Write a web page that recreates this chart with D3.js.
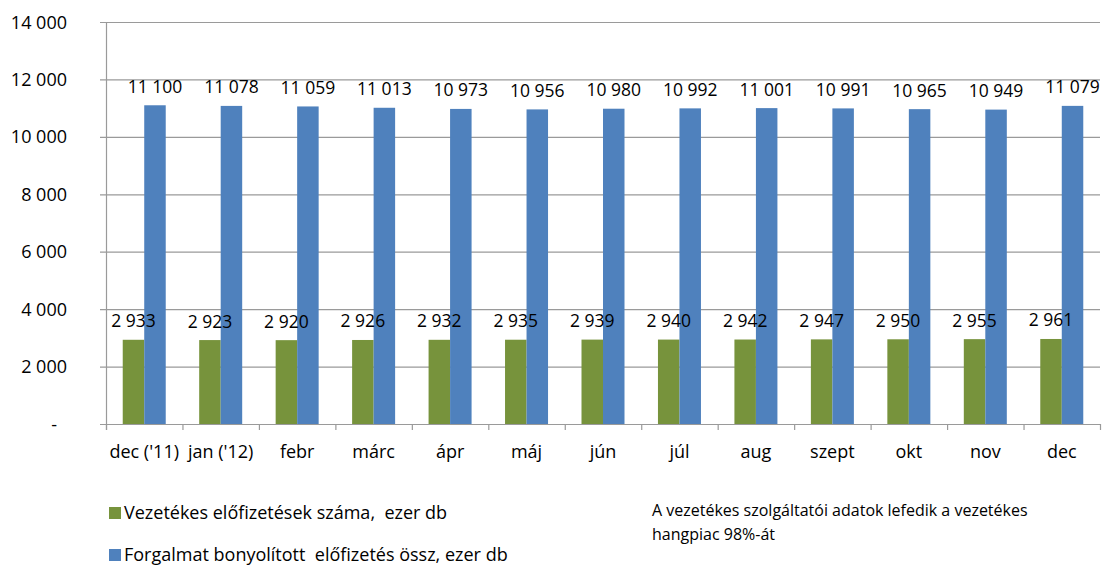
<!DOCTYPE html>
<html><head><meta charset="utf-8">
<script src="https://cdn.jsdelivr.net/npm/d3@7"></script>
<style>
body{margin:0;background:#fff;}
svg{display:block;font-family:"Open Sans",Lato,sans-serif;}
</style></head>
<body><svg id="c" width="1105" height="566"></svg>
<script>
const categories = ["dec ('11)","jan ('12)","febr","márc","ápr","máj","jún","júl","aug","szept","okt","nov","dec"];
const vezetekes = [2933,2923,2920,2926,2932,2935,2939,2940,2942,2947,2950,2955,2961];
const forgalmat = [11100,11078,11059,11013,10973,10956,10980,10992,11001,10991,10965,10949,11079];
const yTicks = [0,2000,4000,6000,8000,10000,12000,14000];
const seriesNames = ["Vezetékes előfizetések száma,  ezer db","Forgalmat bonyolított  előfizetés össz, ezer db"];
const colors = ["#77933C","#4F81BD"];
const note = ["A vezetékes szolgáltatói adatok lefedik a vezetékes","hangpiac 98%-át"];

const svg = d3.select("#c");
const L=106, R=1100, T=22, B=424;
const fmt = v => String(v).replace(/\B(?=(\d{3})+(?!\d))/g, " ");
const fmtTick = v => v===0 ? "-" : fmt(v);

const x = d3.scaleBand().domain(categories).range([L,R]).paddingInner(0).paddingOuter(0);
const y = d3.scaleLinear().domain([0,14000]).range([B,T]);
const sub = d3.scaleBand().domain([0,1]).range([-21.5,21.5]);

svg.append("g").selectAll("line").data(yTicks).join("line")
  .attr("x1",L-6).attr("x2",R).attr("y1",d=>y(d)+0.5).attr("y2",d=>y(d)+0.5)
  .attr("stroke","#9a9a9a").attr("stroke-width",1.2);
svg.append("line").attr("x1",L+0.5).attr("x2",L+0.5).attr("y1",T).attr("y2",B+6)
  .attr("stroke","#9a9a9a").attr("stroke-width",1.2);
const xt = categories.map(c=>x(c)).concat([R]);
svg.append("g").selectAll("line").data(xt).join("line")
  .attr("x1",d=>d+0.5).attr("x2",d=>d+0.5)
  .attr("y1",B).attr("y2",B+6).attr("stroke","#9a9a9a").attr("stroke-width",1.2);

svg.append("g").selectAll("text").data(yTicks).join("text")
  .attr("x",d=>d===0?57:67).attr("y",d=>y(d)+6.5).attr("text-anchor","end")
  .attr("font-size",18).attr("fill","#000").text(fmtTick);

svg.append("g").selectAll("text").data(categories).join("text")
  .attr("x",d=>x(d)+x.bandwidth()/2).attr("y",458).attr("text-anchor","middle")
  .attr("font-size",18).attr("fill","#000").text(d=>d);

const series=[vezetekes,forgalmat];
const barsG=svg.append("g"), labelsG=svg.append("g");
series.forEach((vals,si)=>{
  barsG.append("g").selectAll("rect").data(vals).join("rect")
    .attr("x",(d,i)=>x(categories[i])+x.bandwidth()/2+sub(si))
    .attr("width",sub.bandwidth())
    .attr("y",d=>y(d)).attr("height",d=>B-y(d))
    .attr("fill",colors[si]);
  labelsG.append("g").selectAll("text").data(vals).join("text")
    .attr("x",(d,i)=>x(categories[i])+x.bandwidth()/2+sub(si)+sub.bandwidth()/2)
    .attr("y",d=>y(d)-12.5).attr("text-anchor","middle")
    .attr("font-size",17.5).attr("fill","#000").text(d=>fmt(d));
});

const lg=svg.append("g");
seriesNames.forEach((n,i)=>{
  const yy=507+i*42;
  lg.append("rect").attr("x",109).attr("y",yy).attr("width",12).attr("height",12).attr("fill",colors[i]);
  lg.append("text").attr("x",124).attr("y",yy+12).attr("font-size",18).attr("fill","#000").text(n).style("white-space","pre");
});
svg.append("g").selectAll("text").data(note).join("text")
  .attr("x",652).attr("y",(d,i)=>516+i*24).attr("font-size",16).attr("fill","#000").text(d=>d);
</script></body></html>
